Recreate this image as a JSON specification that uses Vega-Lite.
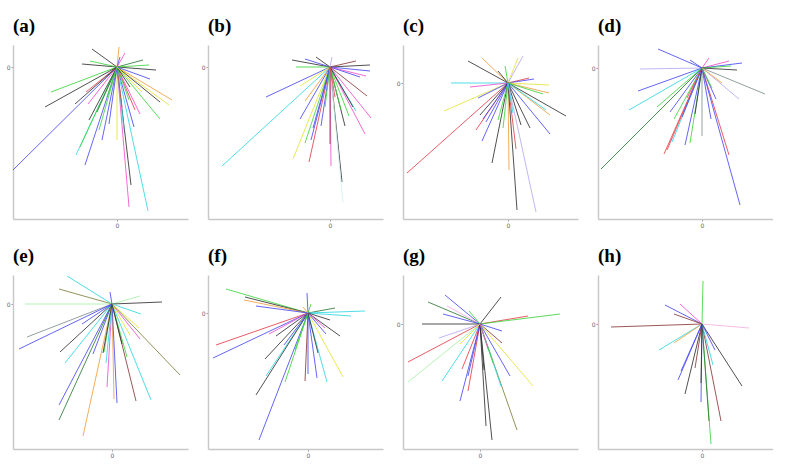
{
"$schema":"https://vega.github.io/schema/vega-lite/v6.json",
"autosize":{"type":"pad"},
"padding":{"left":6,"top":17,"right":0,"bottom":0},
"background":"white",
"bounds":"flush",
"columns":4,
"spacing":{"row":56,"column":20},
"config":{
 "view":{"stroke":null},
 "range":{"category":["#4a4af5","#3ed63e","#333333","#e8404a","#f050d0","#30d8e0","#e4e43a","#f0a040","#8b3a3a","#b8a8f0","#2f7a3a","#d0f0f5","#a8f0a8","#808040","#7f8f8f","#f5b0e0"]},
 "axis":{"grid":false,"title":null,"domainColor":"#c8c8c8","domainWidth":1.5,"tickColor":"#999999","tickSize":2,"labelFontSize":6,"labelColor":"#666666","labelFont":"DejaVu Sans","labelPadding":1},
 "title":{"font":"Liberation Serif","fontSize":19,"fontWeight":"bold","anchor":"start","frame":"group","offset":9,"baseline":"alphabetic","color":"#000000"}
},
"data":{"values":[
{"p":"a","x":-104,"y":-103,"g":"b"},{"p":"a","x":-66,"y":-25,"g":"g"},{"p":"a","x":-72,"y":-40,"g":"k"},{"p":"a","x":-25,"y":18,"g":"k"},{"p":"a","x":-35,"y":3,"g":"k"},{"p":"a","x":-27,"y":6,"g":"g"},{"p":"a","x":39,"y":-3,"g":"k"},{"p":"a","x":26,"y":7,"g":"d"},{"p":"a","x":32,"y":2,"g":"g"},{"p":"a","x":55,"y":-33,"g":"o"},{"p":"a","x":52,"y":-38,"g":"y"},{"p":"a","x":43,"y":-52,"g":"g"},{"p":"a","x":43,"y":-35,"g":"k"},{"p":"a","x":33,"y":-12,"g":"b"},{"p":"a","x":23,"y":-47,"g":"m"},{"p":"a","x":18,"y":-43,"g":"r"},{"p":"a","x":17,"y":-60,"g":"b"},{"p":"a","x":0,"y":-73,"g":"y"},{"p":"a","x":14,"y":-118,"g":"k"},{"p":"a","x":12,"y":-140,"g":"m"},{"p":"a","x":31,"y":-144,"g":"c"},{"p":"a","x":-32,"y":-98,"g":"b"},{"p":"a","x":-41,"y":-88,"g":"c"},{"p":"a","x":-37,"y":-80,"g":"g"},{"p":"a","x":-15,"y":-73,"g":"b"},{"p":"a","x":-28,"y":-53,"g":"k"},{"p":"a","x":-29,"y":-37,"g":"m"},{"p":"a","x":-31,"y":-25,"g":"r"},{"p":"a","x":-42,"y":-37,"g":"k"},{"p":"a","x":2,"y":20,"g":"o"},{"p":"a","x":3,"y":10,"g":"b"},{"p":"a","x":-18,"y":-63,"g":"g"},{"p":"a","x":-8,"y":-57,"g":"b"},{"p":"a","x":7,"y":-63,"g":"c"},{"p":"a","x":12,"y":-33,"g":"g"},{"p":"a","x":13,"y":-20,"g":"k"},{"p":"a","x":-20,"y":-45,"g":"d"},{"p":"a","x":5,"y":-40,"g":"r"},{"p":"a","x":-10,"y":-30,"g":"g"},{"p":"a","x":25,"y":-25,"g":"y"},{"p":"a","x":8,"y":14,"g":"m"},
{"p":"b","x":-108,"y":-99,"g":"c"},{"p":"b","x":-64,"y":-30,"g":"b"},{"p":"b","x":-38,"y":7,"g":"k"},{"p":"b","x":-25,"y":8,"g":"b"},{"p":"b","x":-34,"y":0,"g":"g"},{"p":"b","x":-14,"y":10,"g":"k"},{"p":"b","x":40,"y":2,"g":"k"},{"p":"b","x":26,"y":6,"g":"n"},{"p":"b","x":40,"y":-4,"g":"b"},{"p":"b","x":36,"y":-9,"g":"m"},{"p":"b","x":30,"y":-10,"g":"b"},{"p":"b","x":37,"y":-29,"g":"n"},{"p":"b","x":41,"y":-51,"g":"m"},{"p":"b","x":26,"y":-44,"g":"c"},{"p":"b","x":35,"y":-67,"g":"m"},{"p":"b","x":15,"y":-59,"g":"k"},{"p":"b","x":19,"y":-49,"g":"g"},{"p":"b","x":12,"y":-115,"g":"k"},{"p":"b","x":13,"y":-136,"g":"e"},{"p":"b","x":1,"y":-99,"g":"m"},{"p":"b","x":0,"y":-77,"g":"n"},{"p":"b","x":-21,"y":-95,"g":"r"},{"p":"b","x":-37,"y":-92,"g":"y"},{"p":"b","x":-25,"y":-76,"g":"g"},{"p":"b","x":-19,"y":-73,"g":"b"},{"p":"b","x":-30,"y":-52,"g":"b"},{"p":"b","x":-25,"y":-34,"g":"o"},{"p":"b","x":-30,"y":-19,"g":"y"},{"p":"b","x":-17,"y":-61,"g":"b"},{"p":"b","x":-9,"y":-59,"g":"b"},{"p":"b","x":11,"y":-43,"g":"g"},{"p":"b","x":23,"y":-40,"g":"k"},{"p":"b","x":2,"y":10,"g":"l"},{"p":"b","x":-5,"y":-40,"g":"g"},{"p":"b","x":5,"y":-30,"g":"r"},
{"p":"c","x":-101,"y":-90,"g":"r"},{"p":"c","x":-64,"y":-28,"g":"y"},{"p":"c","x":-57,"y":0,"g":"c"},{"p":"c","x":-38,"y":-4,"g":"m"},{"p":"c","x":-40,"y":22,"g":"k"},{"p":"c","x":-26,"y":25,"g":"o"},{"p":"c","x":-10,"y":12,"g":"k"},{"p":"c","x":-3,"y":17,"g":"g"},{"p":"c","x":10,"y":25,"g":"y"},{"p":"c","x":15,"y":27,"g":"l"},{"p":"c","x":21,"y":5,"g":"r"},{"p":"c","x":26,"y":4,"g":"b"},{"p":"c","x":41,"y":-2,"g":"y"},{"p":"c","x":41,"y":-10,"g":"o"},{"p":"c","x":35,"y":-11,"g":"g"},{"p":"c","x":58,"y":-33,"g":"k"},{"p":"c","x":42,"y":-32,"g":"o"},{"p":"c","x":38,"y":-27,"g":"c"},{"p":"c","x":42,"y":-51,"g":"b"},{"p":"c","x":22,"y":-45,"g":"k"},{"p":"c","x":13,"y":-42,"g":"k"},{"p":"c","x":8,"y":-66,"g":"r"},{"p":"c","x":1,"y":-87,"g":"o"},{"p":"c","x":9,"y":-127,"g":"k"},{"p":"c","x":28,"y":-129,"g":"l"},{"p":"c","x":-16,"y":-80,"g":"k"},{"p":"c","x":-26,"y":-58,"g":"b"},{"p":"c","x":-32,"y":-47,"g":"r"},{"p":"c","x":-22,"y":-39,"g":"b"},{"p":"c","x":-10,"y":-37,"g":"g"},{"p":"c","x":-25,"y":-36,"g":"b"},{"p":"c","x":-28,"y":-32,"g":"k"},{"p":"c","x":-30,"y":-15,"g":"b"},{"p":"c","x":-5,"y":-45,"g":"g"},{"p":"c","x":5,"y":-30,"g":"c"},
{"p":"d","x":-101,"y":-101,"g":"d"},{"p":"d","x":-73,"y":-42,"g":"c"},{"p":"d","x":-64,"y":-23,"g":"b"},{"p":"d","x":-62,"y":-1,"g":"l"},{"p":"d","x":-44,"y":19,"g":"b"},{"p":"d","x":-12,"y":8,"g":"b"},{"p":"d","x":7,"y":10,"g":"m"},{"p":"d","x":27,"y":7,"g":"m"},{"p":"d","x":40,"y":5,"g":"b"},{"p":"d","x":29,"y":2,"g":"g"},{"p":"d","x":35,"y":-2,"g":"k"},{"p":"d","x":63,"y":-26,"g":"x"},{"p":"d","x":37,"y":-31,"g":"l"},{"p":"d","x":14,"y":-31,"g":"b"},{"p":"d","x":9,"y":-51,"g":"b"},{"p":"d","x":27,"y":-87,"g":"r"},{"p":"d","x":38,"y":-137,"g":"b"},{"p":"d","x":0,"y":-68,"g":"x"},{"p":"d","x":-12,"y":-75,"g":"g"},{"p":"d","x":-17,"y":-77,"g":"b"},{"p":"d","x":-38,"y":-86,"g":"r"},{"p":"d","x":-35,"y":-82,"g":"r"},{"p":"d","x":-30,"y":-74,"g":"c"},{"p":"d","x":-28,"y":-51,"g":"g"},{"p":"d","x":-32,"y":-44,"g":"b"},{"p":"d","x":-45,"y":-39,"g":"g"},{"p":"d","x":-7,"y":-46,"g":"k"},{"p":"d","x":-20,"y":-49,"g":"b"},{"p":"d","x":-15,"y":-30,"g":"r"},{"p":"d","x":10,"y":-20,"g":"g"},{"p":"d","x":20,"y":-15,"g":"o"},
{"p":"e","x":-45,"y":28,"g":"c"},{"p":"e","x":-53,"y":15,"g":"v"},{"p":"e","x":-87,"y":0,"g":"h"},{"p":"e","x":-2,"y":12,"g":"b"},{"p":"e","x":28,"y":8,"g":"h"},{"p":"e","x":50,"y":2,"g":"k"},{"p":"e","x":29,"y":-10,"g":"c"},{"p":"e","x":-85,"y":-33,"g":"x"},{"p":"e","x":-93,"y":-45,"g":"b"},{"p":"e","x":-52,"y":-48,"g":"k"},{"p":"e","x":-47,"y":-59,"g":"c"},{"p":"e","x":-19,"y":-50,"g":"b"},{"p":"e","x":-8,"y":-48,"g":"g"},{"p":"e","x":-53,"y":-101,"g":"b"},{"p":"e","x":-53,"y":-116,"g":"d"},{"p":"e","x":-29,"y":-132,"g":"o"},{"p":"e","x":-5,"y":-83,"g":"m"},{"p":"e","x":2,"y":-95,"g":"o"},{"p":"e","x":5,"y":-99,"g":"b"},{"p":"e","x":24,"y":-97,"g":"n"},{"p":"e","x":39,"y":-96,"g":"c"},{"p":"e","x":68,"y":-71,"g":"v"},{"p":"e","x":27,"y":-24,"g":"y"},{"p":"e","x":28,"y":-35,"g":"m"},{"p":"e","x":15,"y":-53,"g":"g"},{"p":"e","x":-6,"y":-59,"g":"c"},{"p":"e","x":-9,"y":-49,"g":"k"},{"p":"e","x":18,"y":-31,"g":"y"},{"p":"e","x":-30,"y":-20,"g":"b"},{"p":"e","x":10,"y":-40,"g":"k"},
{"p":"f","x":-82,"y":24,"g":"g"},{"p":"f","x":-63,"y":16,"g":"k"},{"p":"f","x":-64,"y":13,"g":"o"},{"p":"f","x":-52,"y":7,"g":"b"},{"p":"f","x":-1,"y":20,"g":"b"},{"p":"f","x":3,"y":9,"g":"g"},{"p":"f","x":27,"y":5,"g":"d"},{"p":"f","x":57,"y":2,"g":"c"},{"p":"f","x":43,"y":-3,"g":"c"},{"p":"f","x":22,"y":-7,"g":"k"},{"p":"f","x":-92,"y":-32,"g":"r"},{"p":"f","x":-95,"y":-45,"g":"b"},{"p":"f","x":-32,"y":-23,"g":"k"},{"p":"f","x":-39,"y":-21,"g":"m"},{"p":"f","x":-43,"y":-46,"g":"k"},{"p":"f","x":-42,"y":-63,"g":"c"},{"p":"f","x":-52,"y":-82,"g":"k"},{"p":"f","x":-49,"y":-127,"g":"b"},{"p":"f","x":-23,"y":-69,"g":"g"},{"p":"f","x":-3,"y":-68,"g":"n"},{"p":"f","x":0,"y":-61,"g":"b"},{"p":"f","x":9,"y":-65,"g":"b"},{"p":"f","x":19,"y":-69,"g":"c"},{"p":"f","x":35,"y":-64,"g":"y"},{"p":"f","x":32,"y":-23,"g":"k"},{"p":"f","x":18,"y":-21,"g":"b"},{"p":"f","x":17,"y":-15,"g":"m"},{"p":"f","x":-24,"y":-32,"g":"b"},{"p":"f","x":-13,"y":-37,"g":"g"},{"p":"f","x":-5,"y":6,"g":"o"},{"p":"f","x":10,"y":-40,"g":"k"},
{"p":"g","x":-35,"y":29,"g":"b"},{"p":"g","x":-52,"y":22,"g":"d"},{"p":"g","x":-33,"y":18,"g":"p"},{"p":"g","x":-37,"y":10,"g":"b"},{"p":"g","x":-11,"y":13,"g":"g"},{"p":"g","x":21,"y":27,"g":"k"},{"p":"g","x":-58,"y":0,"g":"k"},{"p":"g","x":48,"y":8,"g":"r"},{"p":"g","x":80,"y":10,"g":"g"},{"p":"g","x":22,"y":-7,"g":"b"},{"p":"g","x":22,"y":-19,"g":"n"},{"p":"g","x":-41,"y":-14,"g":"l"},{"p":"g","x":-72,"y":-38,"g":"r"},{"p":"g","x":-72,"y":-58,"g":"h"},{"p":"g","x":-38,"y":-57,"g":"c"},{"p":"g","x":-18,"y":-45,"g":"r"},{"p":"g","x":-20,"y":-77,"g":"b"},{"p":"g","x":-12,"y":-67,"g":"r"},{"p":"g","x":-12,"y":-52,"g":"b"},{"p":"g","x":6,"y":-102,"g":"k"},{"p":"g","x":12,"y":-116,"g":"k"},{"p":"g","x":37,"y":-106,"g":"v"},{"p":"g","x":53,"y":-62,"g":"y"},{"p":"g","x":30,"y":-52,"g":"b"},{"p":"g","x":21,"y":-62,"g":"c"},{"p":"g","x":13,"y":-39,"g":"g"},{"p":"g","x":4,"y":-46,"g":"k"},{"p":"g","x":-20,"y":-20,"g":"y"},{"p":"g","x":8,"y":-25,"g":"m"},
{"p":"h","x":1,"y":43,"g":"g"},{"p":"h","x":9,"y":-120,"g":"g"},{"p":"h","x":7,"y":-97,"g":"d"},{"p":"h","x":-91,"y":-3,"g":"n"},{"p":"h","x":47,"y":-4,"g":"p"},{"p":"h","x":-37,"y":19,"g":"b"},{"p":"h","x":-22,"y":20,"g":"m"},{"p":"h","x":-28,"y":10,"g":"n"},{"p":"h","x":-43,"y":-26,"g":"c"},{"p":"h","x":-28,"y":-19,"g":"o"},{"p":"h","x":40,"y":-62,"g":"k"},{"p":"h","x":19,"y":-97,"g":"n"},{"p":"h","x":-1,"y":-78,"g":"b"},{"p":"h","x":-17,"y":-70,"g":"k"},{"p":"h","x":-24,"y":-56,"g":"b"},{"p":"h","x":-21,"y":-47,"g":"b"},{"p":"h","x":-7,"y":-44,"g":"n"},{"p":"h","x":11,"y":-41,"g":"c"},{"p":"h","x":13,"y":-26,"g":"b"},{"p":"h","x":-1,"y":-59,"g":"k"}
]},
"concat":[
{"title":"(a)","width":175,"height":174,"transform":[{"filter":"datum.p==='a'"}],"mark":{"type":"rule","strokeWidth":1,"opacity":0.85,"clip":true},"encoding":{"x":{"field":"x","type":"quantitative","scale":{"domain":[-104,71],"nice":false,"zero":false},"axis":{"values":[0]}},"y":{"field":"y","type":"quantitative","scale":{"domain":[-152,22],"nice":false,"zero":false},"axis":{"values":[0]}},"x2":{"datum":0},"y2":{"datum":0},"color":{"field":"g","type":"nominal","scale":{"domain":["b","g","k","r","m","c","y","o","n","l","d","e","h","v","x","p"]},"legend":null}}},
{"title":"(b)","width":175,"height":174,"transform":[{"filter":"datum.p==='b'"}],"mark":{"type":"rule","strokeWidth":1,"opacity":0.85,"clip":true},"encoding":{"x":{"field":"x","type":"quantitative","scale":{"domain":[-122,53],"nice":false,"zero":false},"axis":{"values":[0]}},"y":{"field":"y","type":"quantitative","scale":{"domain":[-152,22],"nice":false,"zero":false},"axis":{"values":[0]}},"x2":{"datum":0},"y2":{"datum":0},"color":{"field":"g","type":"nominal","scale":{"domain":["b","g","k","r","m","c","y","o","n","l","d","e","h","v","x","p"]},"legend":null}}},
{"title":"(c)","width":175,"height":174,"transform":[{"filter":"datum.p==='c'"}],"mark":{"type":"rule","strokeWidth":1,"opacity":0.85,"clip":true},"encoding":{"x":{"field":"x","type":"quantitative","scale":{"domain":[-105,70],"nice":false,"zero":false},"axis":{"values":[0]}},"y":{"field":"y","type":"quantitative","scale":{"domain":[-136,38],"nice":false,"zero":false},"axis":{"values":[0]}},"x2":{"datum":0},"y2":{"datum":0},"color":{"field":"g","type":"nominal","scale":{"domain":["b","g","k","r","m","c","y","o","n","l","d","e","h","v","x","p"]},"legend":null}}},
{"title":"(d)","width":175,"height":174,"transform":[{"filter":"datum.p==='d'"}],"mark":{"type":"rule","strokeWidth":1,"opacity":0.85,"clip":true},"encoding":{"x":{"field":"x","type":"quantitative","scale":{"domain":[-104,71],"nice":false,"zero":false},"axis":{"values":[0]}},"y":{"field":"y","type":"quantitative","scale":{"domain":[-151,23],"nice":false,"zero":false},"axis":{"values":[0]}},"x2":{"datum":0},"y2":{"datum":0},"color":{"field":"g","type":"nominal","scale":{"domain":["b","g","k","r","m","c","y","o","n","l","d","e","h","v","x","p"]},"legend":null}}},
{"title":"(e)","width":175,"height":174,"transform":[{"filter":"datum.p==='e'"}],"mark":{"type":"rule","strokeWidth":1,"opacity":0.85,"clip":true},"encoding":{"x":{"field":"x","type":"quantitative","scale":{"domain":[-99,76],"nice":false,"zero":false},"axis":{"values":[0]}},"y":{"field":"y","type":"quantitative","scale":{"domain":[-145,29],"nice":false,"zero":false},"axis":{"values":[0]}},"x2":{"datum":0},"y2":{"datum":0},"color":{"field":"g","type":"nominal","scale":{"domain":["b","g","k","r","m","c","y","o","n","l","d","e","h","v","x","p"]},"legend":null}}},
{"title":"(f)","width":175,"height":174,"transform":[{"filter":"datum.p==='f'"}],"mark":{"type":"rule","strokeWidth":1,"opacity":0.85,"clip":true},"encoding":{"x":{"field":"x","type":"quantitative","scale":{"domain":[-100,75],"nice":false,"zero":false},"axis":{"values":[0]}},"y":{"field":"y","type":"quantitative","scale":{"domain":[-136,38],"nice":false,"zero":false},"axis":{"values":[0]}},"x2":{"datum":0},"y2":{"datum":0},"color":{"field":"g","type":"nominal","scale":{"domain":["b","g","k","r","m","c","y","o","n","l","d","e","h","v","x","p"]},"legend":null}}},
{"title":"(g)","width":175,"height":174,"transform":[{"filter":"datum.p==='g'"}],"mark":{"type":"rule","strokeWidth":1,"opacity":0.85,"clip":true},"encoding":{"x":{"field":"x","type":"quantitative","scale":{"domain":[-77,98],"nice":false,"zero":false},"axis":{"values":[0]}},"y":{"field":"y","type":"quantitative","scale":{"domain":[-125,49],"nice":false,"zero":false},"axis":{"values":[0]}},"x2":{"datum":0},"y2":{"datum":0},"color":{"field":"g","type":"nominal","scale":{"domain":["b","g","k","r","m","c","y","o","n","l","d","e","h","v","x","p"]},"legend":null}}},
{"title":"(h)","width":175,"height":174,"transform":[{"filter":"datum.p==='h'"}],"mark":{"type":"rule","strokeWidth":1,"opacity":0.85,"clip":true},"encoding":{"x":{"field":"x","type":"quantitative","scale":{"domain":[-104,71],"nice":false,"zero":false},"axis":{"values":[0]}},"y":{"field":"y","type":"quantitative","scale":{"domain":[-125,49],"nice":false,"zero":false},"axis":{"values":[0]}},"x2":{"datum":0},"y2":{"datum":0},"color":{"field":"g","type":"nominal","scale":{"domain":["b","g","k","r","m","c","y","o","n","l","d","e","h","v","x","p"]},"legend":null}}}
]
}
